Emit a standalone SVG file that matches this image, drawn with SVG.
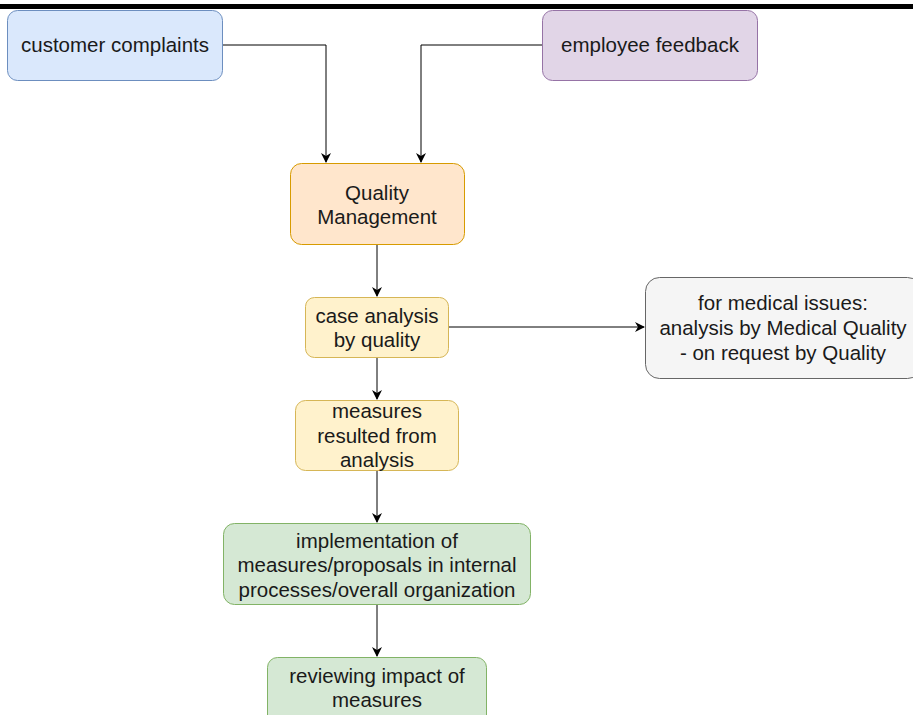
<svg xmlns="http://www.w3.org/2000/svg" width="913" height="715" viewBox="0 0 913 715">
<style>
.t{font-family:"Liberation Sans",Arial,sans-serif;font-size:20.5px;fill:#1a1a1a;text-anchor:middle}
.c{fill:none;stroke:#000;stroke-width:1}
</style>
<defs>
<marker id="ah" viewBox="0 0 10 10" refX="9" refY="5" markerWidth="10" markerHeight="10" markerUnits="userSpaceOnUse" orient="auto">
<path d="M0,0 L10,5 L0,10 L3,5 Z" fill="#000"/>
</marker>
</defs>
<rect x="0" y="0" width="913" height="715" fill="#fff"/>
<rect x="0" y="4" width="913" height="5" fill="#000"/>
<g id="connectors">
<path class="c" d="M223,45 H326 V162" marker-end="url(#ah)"/>
<path class="c" d="M542,45 H421 V162" marker-end="url(#ah)"/>
<path class="c" d="M377,245 V296" marker-end="url(#ah)"/>
<path class="c" d="M449,327 H644" marker-end="url(#ah)"/>
<path class="c" d="M377,358 V399" marker-end="url(#ah)"/>
<path class="c" d="M377,471 V522" marker-end="url(#ah)"/>
<path class="c" d="M377,605 V656" marker-end="url(#ah)"/>
</g>
<g id="customer-complaints">
<rect x="7.5" y="10.5" width="215" height="70" rx="10" fill="#dae8fc" stroke="#6c8ebf"/>
<text class="t" x="115" y="52">customer complaints</text>
</g>
<g id="employee-feedback">
<rect x="542.5" y="10.5" width="215" height="70" rx="10" fill="#e1d5e7" stroke="#9673a6"/>
<text class="t" x="650" y="52">employee feedback</text>
</g>
<g id="quality-management">
<rect x="290.5" y="163.5" width="174" height="81" rx="11" fill="#ffe6cc" stroke="#d79b00"/>
<text class="t" x="377" y="200">Quality</text>
<text class="t" x="377" y="224">Management</text>
</g>
<g id="case-analysis">
<rect x="305.5" y="297.5" width="143" height="60" rx="9" fill="#fff2cc" stroke="#d6b656"/>
<text class="t" x="377" y="323">case analysis</text>
<text class="t" x="377" y="347">by quality</text>
</g>
<g id="medical-quality">
<rect x="645.5" y="277.5" width="276" height="101" rx="14" fill="#f5f5f5" stroke="#666666"/>
<text class="t" x="783" y="310">for medical issues:</text>
<text class="t" x="783" y="335">analysis by Medical Quality</text>
<text class="t" x="783" y="360">- on request by Quality</text>
</g>
<g id="measures">
<rect x="295.5" y="400.5" width="163" height="70" rx="10" fill="#fff2cc" stroke="#d6b656"/>
<text class="t" x="377" y="418">measures</text>
<text class="t" x="377" y="443">resulted from</text>
<text class="t" x="377" y="467">analysis</text>
</g>
<g id="implementation">
<rect x="223.5" y="523.5" width="307" height="81" rx="11" fill="#d5e8d4" stroke="#82b366"/>
<text class="t" x="377" y="548">implementation of</text>
<text class="t" x="377" y="572">measures/proposals in internal</text>
<text class="t" x="377" y="597">processes/overall organization</text>
</g>
<g id="reviewing">
<rect x="267.5" y="657.5" width="219" height="70" rx="10" fill="#d5e8d4" stroke="#82b366"/>
<text class="t" x="377" y="683">reviewing impact of</text>
<text class="t" x="377" y="707">measures</text>
</g>
</svg>
